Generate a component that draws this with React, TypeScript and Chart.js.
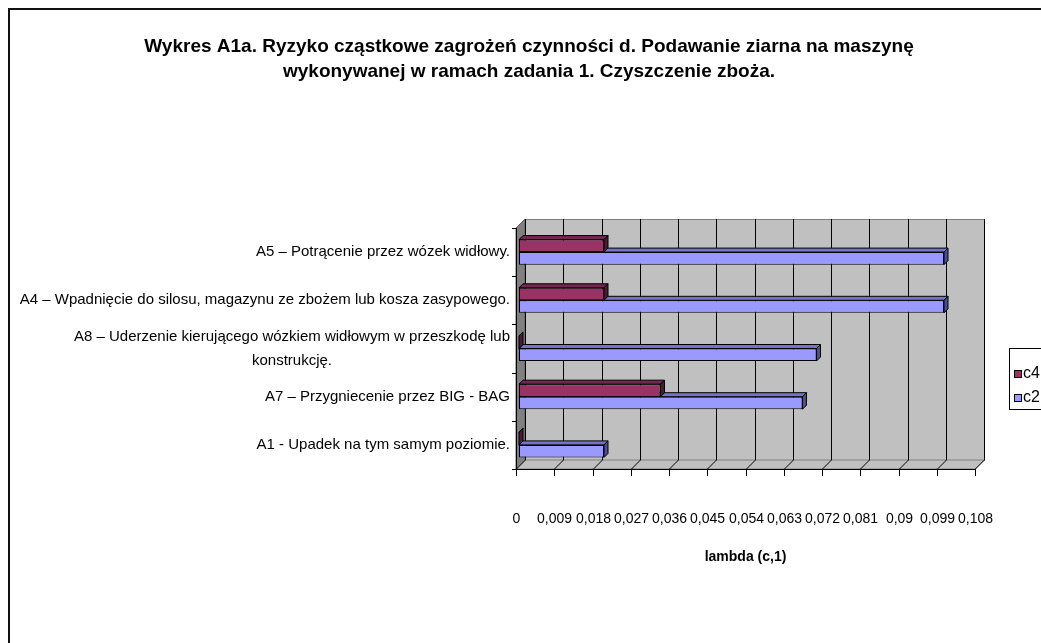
import React, { useEffect, useRef } from "react";
import { Chart, registerables } from "chart.js";
Chart.register(...registerables);

const TITLE_LINES = [
  "Wykres A1a. Ryzyko cząstkowe zagrożeń czynności d. Podawanie ziarna na maszynę",
  "wykonywanej w ramach zadania 1. Czyszczenie zboża.",
];
const CATEGORIES: (string | string[])[] = [
  "A5 – Potrącenie przez wózek widłowy.",
  "A4 – Wpadnięcie do silosu, magazynu ze zbożem lub kosza zasypowego.",
  ["A8 – Uderzenie kierującego wózkiem widłowym w przeszkodę lub", "konstrukcję."],
  "A7 – Przygniecenie przez BIG - BAG",
  "A1 - Upadek na tym samym poziomie.",
];
const SERIES_NAMES = ["c4", "c2"];
const C4_VALUES = [0.02, 0.02, 0, 0.0333, 0];
const C2_VALUES = [0.1, 0.1, 0.07, 0.0667, 0.02];
const X_TICKS = [0, 0.009, 0.018, 0.027, 0.036, 0.045, 0.054, 0.063, 0.072, 0.081, 0.09, 0.099, 0.108];
const X_TICK_LABELS = X_TICKS.map((v) => String(v).replace(".", ","));
const X_TITLE = "lambda (c,1)";

const FRONT = ["#993366", "#9999FF"];
const TOPF = ["#732650", "#7373c8"];
const SIDEF = ["#4d1a33", "#4c4c99"];

const FONT = "'Liberation Sans', Arial, sans-serif";
const W = 1033;
const H = 635;

const excel3d = {
  id: "excel3d",
  beforeDatasetsDraw(chart: any) {
    const { ctx, chartArea, scales } = chart;
    const { left, right, top, bottom } = chartArea;
    const x = scales.x;
    const DX = 9, DY = 9;
    ctx.save();
    ctx.lineWidth = 1;
    // side wall
    ctx.fillStyle = "#808080";
    ctx.beginPath();
    ctx.moveTo(left, top); ctx.lineTo(left + DX, top - DY); ctx.lineTo(left + DX, bottom - DY); ctx.lineTo(left, bottom);
    ctx.closePath(); ctx.fill();
    ctx.strokeStyle = "#606060"; ctx.stroke();
    // back wall
    ctx.fillStyle = "#c0c0c0";
    ctx.fillRect(left + DX, top - DY, right - left, bottom - top);
    ctx.strokeStyle = "#808080";
    ctx.strokeRect(left + DX + 0.5, top - DY + 0.5, right - left, bottom - top);
    // floor
    ctx.fillStyle = "#c0c0c0";
    ctx.beginPath();
    ctx.moveTo(left, bottom); ctx.lineTo(left + DX, bottom - DY); ctx.lineTo(right + DX, bottom - DY); ctx.lineTo(right, bottom);
    ctx.closePath(); ctx.fill();
    ctx.strokeStyle = "#808080"; ctx.stroke();
    // gridlines on the wall and floor
    ctx.strokeStyle = "#000";
    X_TICKS.forEach((v) => {
      const px = Math.round(x.getPixelForValue(v)) + 0.5;
      ctx.beginPath();
      ctx.moveTo(px + DX, top - DY); ctx.lineTo(px + DX, bottom - DY);
      ctx.stroke();
      ctx.beginPath();
      ctx.moveTo(px, bottom); ctx.lineTo(px + DX, bottom - DY);
      ctx.stroke();
    });
    // 3D faces of bars
    const S = 3, d = 4;
    [1, 0].forEach((di) => {
      const meta = chart.getDatasetMeta(di);
      meta.data.forEach((el: any) => {
        const h = el.height;
        const t = el.y - h / 2;
        const x0 = el.base + S, x1 = el.x + S;
        ctx.strokeStyle = "#000";
        ctx.fillStyle = TOPF[di];
        ctx.beginPath();
        ctx.moveTo(x0, t); ctx.lineTo(x0 + d, t - d); ctx.lineTo(x1 + d, t - d); ctx.lineTo(x1, t);
        ctx.closePath(); ctx.fill(); ctx.stroke();
        ctx.fillStyle = SIDEF[di];
        ctx.beginPath();
        ctx.moveTo(x1, t); ctx.lineTo(x1 + d, t - d); ctx.lineTo(x1 + d, t + h - d); ctx.lineTo(x1, t + h);
        ctx.closePath(); ctx.fill(); ctx.stroke();
      });
    });
    ctx.restore();
    ctx.save();
    ctx.translate(S, 0);
  },
  afterDatasetsDraw(chart: any) {
    const { ctx, chartArea, scales } = chart;
    ctx.restore();
    const { left, right, top, bottom } = chartArea;
    const x = scales.x;
    const y = scales.y;
    ctx.save();
    ctx.strokeStyle = "#000";
    ctx.lineWidth = 1;
    // vertical front axis
    ctx.beginPath();
    ctx.moveTo(left + 0.5, top); ctx.lineTo(left + 0.5, bottom);
    ctx.stroke();
    const n = CATEGORIES.length;
    const step = (bottom - top) / n;
    for (let k = 0; k <= n; k++) {
      const py = Math.round(top + k * step) + 0.5;
      ctx.beginPath(); ctx.moveTo(left - 4, py); ctx.lineTo(left, py); ctx.stroke();
    }
    // horizontal front axis
    ctx.beginPath();
    ctx.moveTo(left, bottom + 0.5); ctx.lineTo(right, bottom + 0.5);
    ctx.stroke();
    ctx.fillStyle = "#000";
    ctx.font = `14px ${FONT}`;
    ctx.textAlign = "center";
    ctx.textBaseline = "middle";
    X_TICKS.forEach((v, i) => {
      const px = Math.round(x.getPixelForValue(v)) + 0.5;
      ctx.beginPath(); ctx.moveTo(px, bottom); ctx.lineTo(px, bottom + 7); ctx.stroke();
      ctx.fillText(X_TICK_LABELS[i], px, bottom + 50);
    });
    // category labels
    ctx.font = `15px ${FONT}`;
    CATEGORIES.forEach((lab, i) => {
      const lines = Array.isArray(lab) ? lab : [lab];
      const cy = y.getPixelForValue(i);
      const maxW = Math.max(...lines.map((l) => ctx.measureText(l).width));
      const cx = left - 6 - maxW / 2;
      const lh = 24;
      lines.forEach((l, j) => {
        ctx.fillText(l, cx, cy + (j - (lines.length - 1) / 2) * lh);
      });
    });
    // axis title
    ctx.font = `bold 14px ${FONT}`;
    ctx.fillText(X_TITLE, (left + right) / 2, bottom + 88);
    // chart title
    ctx.font = `bold 19px ${FONT}`;
    TITLE_LINES.forEach((l, j) => ctx.fillText(l, 521, 39 + j * 25));
    // legend
    ctx.fillStyle = "#fff";
    ctx.fillRect(1001, 340, 100, 61);
    ctx.strokeRect(1001.5, 340.5, 100, 61);
    ctx.font = `16px ${FONT}`;
    ctx.textAlign = "left";
    SERIES_NAMES.forEach((nm, i) => {
      const sy = 362 + i * 24;
      ctx.fillStyle = FRONT[i];
      ctx.fillRect(1006, sy, 7, 7);
      ctx.strokeRect(1006.5, sy + 0.5, 7, 7);
      ctx.fillStyle = "#000";
      ctx.fillText(nm, 1015, sy + 4);
    });
    // outer frame
    ctx.lineWidth = 2;
    ctx.strokeStyle = "#111";
    ctx.strokeRect(1, 1, W + 10, H + 10);
    ctx.restore();
  },
};

export default function App() {
  const ref = useRef<HTMLCanvasElement>(null);
  useEffect(() => {
    document.documentElement.style.overflow = "hidden";
    const chart = new Chart(ref.current!, {
      type: "bar",
      data: {
        labels: CATEGORIES as any,
        datasets: [
          { label: SERIES_NAMES[0], data: C4_VALUES, backgroundColor: FRONT[0] },
          { label: SERIES_NAMES[1], data: C2_VALUES, backgroundColor: FRONT[1] },
        ].map((ds) => ({ ...ds, borderColor: "#000", borderWidth: 1, borderSkipped: false, barPercentage: 1, categoryPercentage: 0.52 })),
      },
      options: {
        indexAxis: "y",
        animation: false,
        responsive: false,
        devicePixelRatio: 1,
        layout: { padding: { left: 508, right: W - 967, top: 220, bottom: H - 461 } },
        plugins: { legend: { display: false }, title: { display: false }, tooltip: { enabled: false } },
        scales: {
          x: { type: "linear", min: 0, max: 0.108, display: false },
          y: { type: "category", display: false, offset: true },
        },
      },
      plugins: [excel3d],
    });
    return () => chart.destroy();
  }, []);
  return (
    <div style={{ position: "fixed", left: 8, top: 8, width: W, height: H, overflow: "hidden" }}>
      <canvas ref={ref} width={W} height={H} style={{ display: "block" }} />
    </div>
  );
}
